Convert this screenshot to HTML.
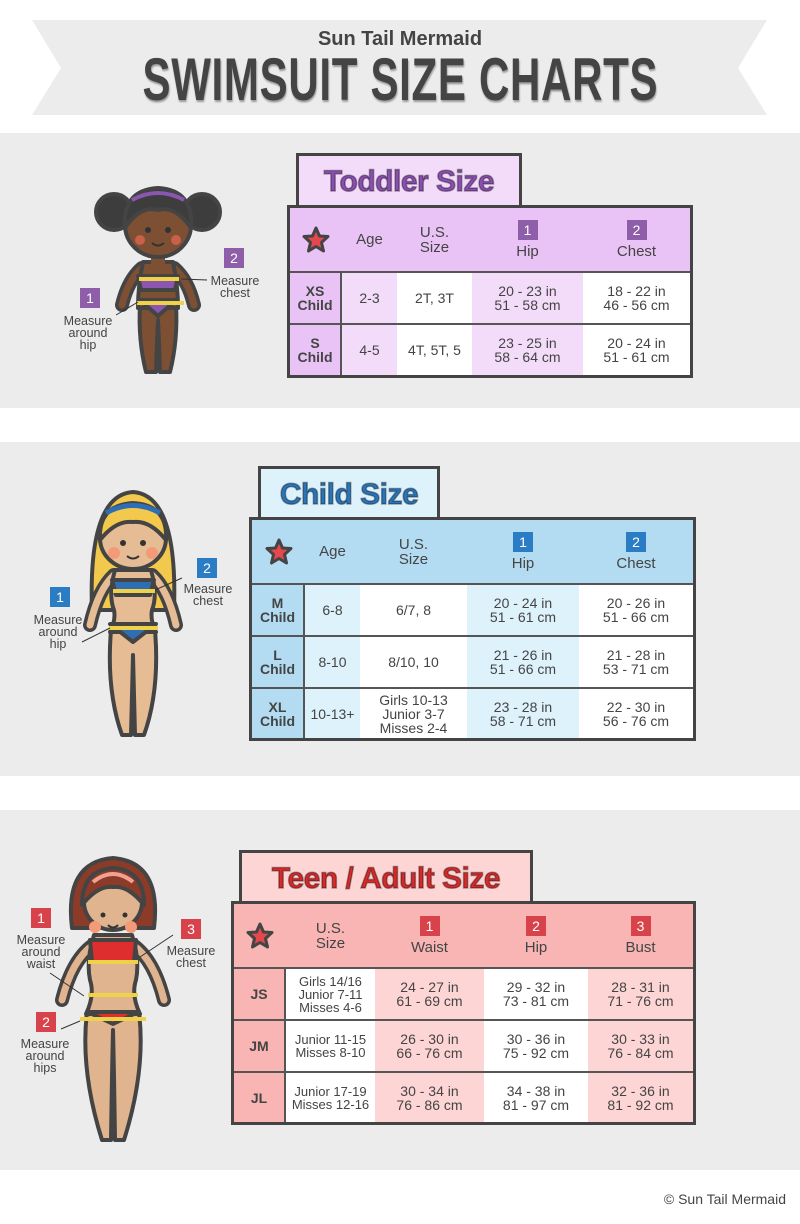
<!DOCTYPE html>
<html><head><meta charset="utf-8">
<style>
*{margin:0;padding:0;box-sizing:border-box}
body{width:800px;height:1224px;background:#fff;position:relative;font-family:"Liberation Sans",sans-serif;color:#444;overflow:hidden}
.sec{position:absolute;left:0;width:800px;background:#ececec}
.tab{position:absolute;border:3px solid #444;border-bottom:none;display:flex;align-items:center;justify-content:center;font-weight:bold;letter-spacing:-0.5px;-webkit-text-stroke:1.5px rgba(0,0,0,0.35)}
.tbl{position:absolute;border:3px solid #444;display:grid}
.c{display:flex;align-items:center;justify-content:center;text-align:center;font-size:14px;line-height:14px;color:#444;border-bottom:2px solid #555}
.h{font-size:15px;line-height:15px;flex-direction:column;border-bottom:2px solid #555}
.f{border-right:2px solid #555;font-weight:bold;font-size:14px}
.last{border-bottom:none}
.nb{display:inline-block;width:20px;height:20px;color:#fff;font-size:14px;line-height:20px;margin-bottom:4px;font-weight:normal}
.lbl{position:absolute;font-size:12.5px;line-height:12px;text-align:center;color:#444}
.bx{position:absolute;width:20px;height:20px;color:#fff;font-size:14px;line-height:20px;text-align:center}
</style></head><body>
<svg width="800" height="130" style="position:absolute;left:0;top:0">
<polygon points="32,20 767,20 738,68 767,115 32,115 61,68" fill="#ececec"/>
</svg>
<div style="position:absolute;left:0;top:28px;width:800px;text-align:center;font-size:20px;font-weight:bold;color:#444">Sun Tail Mermaid</div>
<div style="position:absolute;left:0;top:48px;width:800px;text-align:center;"><span style="display:inline-block;font-size:60px;font-weight:bold;color:#444;transform:scaleX(0.70);letter-spacing:1px;line-height:64px;text-shadow:1px 2px 2px rgba(0,0,0,0.35)">SWIMSUIT SIZE CHARTS</span></div>

<div class="sec" style="top:133px;height:275px"></div>
<div class="sec" style="top:442px;height:334px"></div>
<div class="sec" style="top:810px;height:360px"></div>

<svg width="800" height="1224" style="position:absolute;left:0;top:0">
<defs>
<g id="star"><polygon points="0,-12 3.5,-4 12,-3.5 5.5,2.5 7.5,11 0,6.5 -7.5,11 -5.5,2.5 -12,-3.5 -3.5,-4" fill="#e5474f" stroke="#444" stroke-width="3" stroke-linejoin="round"/></g>
</defs>
<!-- Toddler figure -->
<g stroke="#444" stroke-width="4" stroke-linejoin="round">
<circle cx="114" cy="212" r="18" fill="#3d3d3d"/>
<circle cx="202" cy="212" r="18" fill="#3d3d3d"/>
<path d="M142,268 Q128,280 122,305" stroke="#444" stroke-width="14" fill="none" stroke-linecap="round"/>
<path d="M174,268 Q188,280 194,305" stroke="#444" stroke-width="14" fill="none" stroke-linecap="round"/>
<path d="M142,268 Q128,280 122,305" stroke="#7d5034" stroke-width="7" fill="none" stroke-linecap="round"/>
<path d="M174,268 Q188,280 194,305" stroke="#7d5034" stroke-width="7" fill="none" stroke-linecap="round"/>
<path d="M140,305 Q138,340 146,372 L156,372 Q157,340 158,320 Q159,340 160,372 L170,372 Q178,340 176,305 Z" fill="#7d5034"/>
<path d="M143,262 L173,262 Q178,285 178,308 L138,308 Q138,285 143,262 Z" fill="#7d5034"/>
<rect x="151" y="252" width="14" height="12" fill="#7d5034" stroke="none"/>
<ellipse cx="158" cy="225" rx="33" ry="32" fill="#7d5034"/>
<path d="M125,228 Q122,190 158,188 Q194,190 191,228 Q175,205 158,210 Q140,205 125,228 Z" fill="#3d3d3d"/>
<path d="M138,276 L178,276 L175,290 L141,290 Z" fill="#8a56b0"/>
<path d="M140,300 L176,300 L158,316 Z" fill="#8a56b0"/>
</g>
<path d="M132,200 Q158,186 184,200" stroke="#8a56b0" stroke-width="4" fill="none"/>
<circle cx="148" cy="230" r="3" fill="#333"/><circle cx="168" cy="230" r="3" fill="#333"/>
<circle cx="140" cy="240" r="5" fill="#c8604a"/><circle cx="176" cy="240" r="5" fill="#c8604a"/>
<path d="M152,243 Q158,248 164,243" stroke="#333" stroke-width="2" fill="none"/>
<rect x="139" y="277" width="40" height="4" fill="#efd14a"/>
<rect x="137" y="301" width="47" height="4" fill="#efd14a"/>
<line x1="181" y1="279" x2="207" y2="280" stroke="#333" stroke-width="1"/>
<line x1="116" y1="315" x2="138" y2="302" stroke="#333" stroke-width="1"/>

<!-- Child figure -->
<g stroke="#444" stroke-width="4" stroke-linejoin="round">
<path d="M92,610 Q88,495 133,492 Q178,495 174,610 Z" fill="#f2c94c"/>
<path d="M114,575 Q98,590 90,625" stroke="#444" stroke-width="14" fill="none" stroke-linecap="round"/>
<path d="M152,575 Q168,590 176,625" stroke="#444" stroke-width="14" fill="none" stroke-linecap="round"/>
<path d="M114,575 Q98,590 90,625" stroke="#e6bc94" stroke-width="7" fill="none" stroke-linecap="round"/>
<path d="M152,575 Q168,590 176,625" stroke="#e6bc94" stroke-width="7" fill="none" stroke-linecap="round"/>
<path d="M111,630 Q106,690 122,735 L131,735 Q132,690 133,655 Q134,690 135,735 L144,735 Q160,690 155,630 Z" fill="#e6bc94"/>
<path d="M115,570 L151,570 Q158,595 152,610 Q150,620 156,632 L110,632 Q116,620 114,610 Q108,595 115,570 Z" fill="#e6bc94"/>
<ellipse cx="133" cy="538" rx="33" ry="31" fill="#e6bc94"/>
<path d="M100,540 Q98,505 133,503 Q168,505 166,540 Q150,520 133,522 Q116,520 100,540 Z" fill="#f2c94c"/>
<path d="M112,580 L154,580 L150,595 L116,595 Z" fill="#2f6db5"/>
<path d="M110,624 L156,624 L133,642 Z" fill="#2f6db5"/>
</g>
<path d="M106,513 Q133,498 160,513" stroke="#2f6db5" stroke-width="5" fill="none"/>
<circle cx="123" cy="543" r="3" fill="#333"/><circle cx="143" cy="543" r="3" fill="#333"/>
<circle cx="114" cy="553" r="6" fill="#f39a78"/><circle cx="152" cy="553" r="6" fill="#f39a78"/>
<path d="M127,556 Q133,561 139,556" stroke="#333" stroke-width="2" fill="none"/>
<rect x="113" y="589" width="42" height="4" fill="#efd14a"/>
<rect x="109" y="626" width="49" height="4" fill="#efd14a"/>
<line x1="155" y1="590" x2="182" y2="578" stroke="#333" stroke-width="1"/>
<line x1="82" y1="642" x2="110" y2="628" stroke="#333" stroke-width="1"/>

<!-- Teen figure -->
<g stroke="#444" stroke-width="4" stroke-linejoin="round">
<path d="M72,928 Q64,862 113,858 Q162,862 154,928 Z" fill="#8c3b28"/>
<path d="M93,945 Q72,960 62,1000" stroke="#444" stroke-width="14" fill="none" stroke-linecap="round"/>
<path d="M133,945 Q154,960 164,1000" stroke="#444" stroke-width="14" fill="none" stroke-linecap="round"/>
<path d="M93,945 Q72,960 62,1000" stroke="#e0b48f" stroke-width="7" fill="none" stroke-linecap="round"/>
<path d="M133,945 Q154,960 164,1000" stroke="#e0b48f" stroke-width="7" fill="none" stroke-linecap="round"/>
<path d="M87,1012 Q80,1070 102,1140 L111,1140 Q112,1070 113,1030 Q114,1070 115,1140 L124,1140 Q146,1070 139,1012 Z" fill="#e0b48f"/>
<path d="M94,935 L132,935 Q140,960 136,980 Q131,995 140,1014 L86,1014 Q95,995 90,980 Q86,960 94,935 Z" fill="#e0b48f"/>
<ellipse cx="113" cy="902" rx="29" ry="28" fill="#e0b48f"/>
<path d="M82,905 Q82,870 113,868 Q144,870 144,905 Q128,885 113,887 Q98,885 82,905 Z" fill="#8c3b28"/>
<path d="M90,940 L136,940 L134,962 L92,962 Z" fill="#de2e2e"/>
<path d="M88,1012 L138,1012 L113,1024 Z" fill="#de2e2e"/>
</g>
<path d="M93,882 Q113,866 133,882" stroke="#f2a08f" stroke-width="4" fill="none"/>
<circle cx="103" cy="915" r="2.5" fill="#333"/><circle cx="125" cy="915" r="2.5" fill="#333"/>
<circle cx="95" cy="927" r="6" fill="#f39a78"/><circle cx="131" cy="927" r="6" fill="#f39a78"/>
<path d="M108,925 Q113,930 118,925" stroke="#333" stroke-width="2" fill="none"/>
<rect x="88" y="960" width="50" height="4" fill="#efd14a"/>
<rect x="88" y="993" width="50" height="4" fill="#efd14a"/>
<rect x="80" y="1017" width="66" height="4" fill="#efd14a"/>
<line x1="50" y1="973" x2="84" y2="996" stroke="#333" stroke-width="1"/>
<line x1="140" y1="957" x2="173" y2="935" stroke="#333" stroke-width="1"/>
<line x1="61" y1="1029" x2="80" y2="1021" stroke="#333" stroke-width="1"/>
</svg>

<!-- figure labels -->
<div class="bx" style="left:224px;top:248px;background:#8e5fa8">2</div>
<div class="lbl" style="left:202px;top:275px;width:66px">Measure<br>chest</div>
<div class="bx" style="left:80px;top:288px;background:#8e5fa8">1</div>
<div class="lbl" style="left:55px;top:315px;width:66px">Measure<br>around<br>hip</div>

<div class="bx" style="left:197px;top:558px;background:#2a7cc4">2</div>
<div class="lbl" style="left:175px;top:583px;width:66px">Measure<br>chest</div>
<div class="bx" style="left:50px;top:587px;background:#2a7cc4">1</div>
<div class="lbl" style="left:25px;top:614px;width:66px">Measure<br>around<br>hip</div>

<div class="bx" style="left:31px;top:908px;background:#d8434b">1</div>
<div class="lbl" style="left:8px;top:934px;width:66px">Measure<br>around<br>waist</div>
<div class="bx" style="left:181px;top:919px;background:#d8434b">3</div>
<div class="lbl" style="left:158px;top:945px;width:66px">Measure<br>chest</div>
<div class="bx" style="left:36px;top:1012px;background:#d8434b">2</div>
<div class="lbl" style="left:12px;top:1038px;width:66px">Measure<br>around<br>hips</div>

<!-- Toddler table -->
<div class="tab" style="left:296px;top:153px;width:226px;height:55px;background:#f3dcfa;color:#8a4fb0;font-size:30px">Toddler Size</div>
<div class="tbl" style="left:287px;top:205px;width:406px;height:173px;grid-template-columns:52px 55px 75px 111px 107px;grid-template-rows:65px 52px 50px">
<div class="c h" style="background:#e9c3f5"><svg width="30" height="30"><use href="#star" x="15" y="15"/></svg></div>
<div class="c h" style="background:#e9c3f5">Age</div>
<div class="c h" style="background:#e9c3f5">U.S.<br>Size</div>
<div class="c h" style="background:#e9c3f5"><span class="nb" style="background:#8e5fa8">1</span>Hip</div>
<div class="c h" style="background:#e9c3f5"><span class="nb" style="background:#8e5fa8">2</span>Chest</div>
<div class="c f" style="background:#e9c3f5">XS<br>Child</div>
<div class="c" style="background:#f3dcfa">2-3</div>
<div class="c" style="background:#fff">2T, 3T</div>
<div class="c" style="background:#f3dcfa">20 - 23 in<br>51 - 58 cm</div>
<div class="c" style="background:#fff">18 - 22 in<br>46 - 56 cm</div>
<div class="c f last" style="background:#e9c3f5">S<br>Child</div>
<div class="c last" style="background:#f3dcfa">4-5</div>
<div class="c last" style="background:#fff">4T, 5T, 5</div>
<div class="c last" style="background:#f3dcfa">23 - 25 in<br>58 - 64 cm</div>
<div class="c last" style="background:#fff">20 - 24 in<br>51 - 61 cm</div>
</div>

<!-- Child table -->
<div class="tab" style="left:258px;top:466px;width:182px;height:54px;background:#def2fc;color:#2a74b8;font-size:30px">Child Size</div>
<div class="tbl" style="left:249px;top:517px;width:447px;height:224px;grid-template-columns:53px 55px 107px 112px 114px;grid-template-rows:65px 52px 52px 49px">
<div class="c h" style="background:#b3dcf2"><svg width="30" height="30"><use href="#star" x="15" y="15"/></svg></div>
<div class="c h" style="background:#b3dcf2">Age</div>
<div class="c h" style="background:#b3dcf2">U.S.<br>Size</div>
<div class="c h" style="background:#b3dcf2"><span class="nb" style="background:#2a7cc4">1</span>Hip</div>
<div class="c h" style="background:#b3dcf2"><span class="nb" style="background:#2a7cc4">2</span>Chest</div>
<div class="c f" style="background:#b3dcf2">M<br>Child</div>
<div class="c" style="background:#def2fc">6-8</div>
<div class="c" style="background:#fff">6/7, 8</div>
<div class="c" style="background:#def2fc">20 - 24 in<br>51 - 61 cm</div>
<div class="c" style="background:#fff">20 - 26 in<br>51 - 66 cm</div>
<div class="c f" style="background:#b3dcf2">L<br>Child</div>
<div class="c" style="background:#def2fc">8-10</div>
<div class="c" style="background:#fff">8/10, 10</div>
<div class="c" style="background:#def2fc">21 - 26 in<br>51 - 66 cm</div>
<div class="c" style="background:#fff">21 - 28 in<br>53 - 71 cm</div>
<div class="c f last" style="background:#b3dcf2">XL<br>Child</div>
<div class="c last" style="background:#def2fc">10-13+</div>
<div class="c last" style="background:#fff">Girls 10-13<br>Junior 3-7<br>Misses 2-4</div>
<div class="c last" style="background:#def2fc">23 - 28 in<br>58 - 71 cm</div>
<div class="c last" style="background:#fff">22 - 30 in<br>56 - 76 cm</div>
</div>

<!-- Teen table -->
<div class="tab" style="left:239px;top:850px;width:294px;height:54px;background:#fdd5d5;color:#d42a2a;font-size:30px">Teen / Adult Size</div>
<div class="tbl" style="left:231px;top:901px;width:465px;height:224px;grid-template-columns:52px 89px 109px 104px 105px;grid-template-rows:65px 52px 52px 49px">
<div class="c h" style="background:#f8b5b3"><svg width="30" height="30"><use href="#star" x="15" y="15"/></svg></div>
<div class="c h" style="background:#f8b5b3">U.S.<br>Size</div>
<div class="c h" style="background:#f8b5b3"><span class="nb" style="background:#d8434b">1</span>Waist</div>
<div class="c h" style="background:#f8b5b3"><span class="nb" style="background:#d8434b">2</span>Hip</div>
<div class="c h" style="background:#f8b5b3"><span class="nb" style="background:#d8434b">3</span>Bust</div>
<div class="c f" style="background:#f8b5b3">JS</div>
<div class="c" style="background:#fff;font-size:13px;line-height:13px">Girls 14/16<br>Junior 7-11<br>Misses 4-6</div>
<div class="c" style="background:#fdd5d5">24 - 27 in<br>61 - 69 cm</div>
<div class="c" style="background:#fff">29 - 32 in<br>73 - 81 cm</div>
<div class="c" style="background:#fdd5d5">28 - 31 in<br>71 - 76 cm</div>
<div class="c f" style="background:#f8b5b3">JM</div>
<div class="c" style="background:#fff;font-size:13px;line-height:13px">Junior 11-15<br>Misses 8-10</div>
<div class="c" style="background:#fdd5d5">26 - 30 in<br>66 - 76 cm</div>
<div class="c" style="background:#fff">30 - 36 in<br>75 - 92 cm</div>
<div class="c" style="background:#fdd5d5">30 - 33 in<br>76 - 84 cm</div>
<div class="c f last" style="background:#f8b5b3">JL</div>
<div class="c last" style="background:#fff;font-size:13px;line-height:13px">Junior 17-19<br>Misses 12-16</div>
<div class="c last" style="background:#fdd5d5">30 - 34 in<br>76 - 86 cm</div>
<div class="c last" style="background:#fff">34 - 38 in<br>81 - 97 cm</div>
<div class="c last" style="background:#fdd5d5">32 - 36 in<br>81 - 92 cm</div>
</div>

<div style="position:absolute;left:620px;top:1191px;width:166px;text-align:right;font-size:14px;color:#444">© Sun Tail Mermaid</div>
</body></html>
